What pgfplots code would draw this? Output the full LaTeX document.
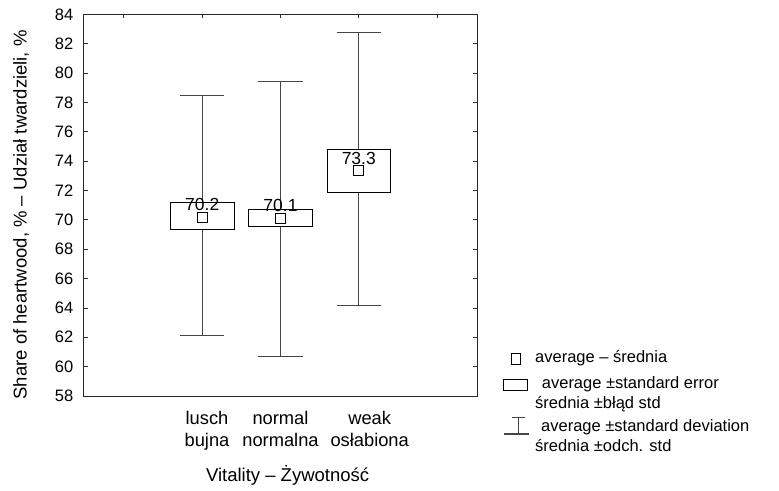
\documentclass[border=0pt]{standalone}
\usepackage{fontspec}
\setmainfont{Liberation Sans}
\usepackage{pgfplots}
\pgfplotsset{compat=1.18}
\usepgfplotslibrary{statistics}
\definecolor{whisk}{HTML}{454545}
\definecolor{axcol}{HTML}{2A2A2A}
\begin{document}
\fontsize{16.5}{20}\selectfont
\begin{tikzpicture}
\useasboundingbox (0,0) rectangle (779pt,490pt);
\begin{axis}[
  at={(84pt,94pt)}, anchor=south west,
  scale only axis, width=393pt, height=381.5pt,
  xmin=-0.51, xmax=4.51, ymin=58, ymax=84,
  ytick={58,60,...,84},
  xtick={0,1,2,3,4},
  xticklabels={{},{\hspace*{9.6pt}lusch\\\hspace*{9.6pt}bujna},{normal\\normalna},{\hspace*{21.8pt}weak\\\hspace*{21.8pt}osłabiona},{}},
  xtick pos=right, xticklabel pos=left,
  ytick pos=both, yticklabel pos=left,
  tick align=inside,
  major tick length=4pt,
  axis line style={axcol, line width=1pt},
  tick style={axcol, line width=0.9pt},
  /pgf/number format/assume math mode=true,
  yticklabel style={xshift=-5pt},
  xticklabel style={align=center, font=\fontsize{18.3}{22}\selectfont, yshift=-9.5pt},
  xlabel={Vitality – Żywotność},
  ylabel={Share of heartwood, \% – Udział twardzieli, \%},
  xlabel style={at={(axis description cs:0.518,-0.209)}, anchor=center, font=\fontsize{18.5}{22}\selectfont},
  ylabel style={at={(axis description cs:-0.16,0.475)}, anchor=center, font=\fontsize{18.5}{22}\selectfont},
  boxplot/draw direction=y,
  boxplot/every median/.style={draw=none},
  boxplot/every whisker/.style={whisk, line width=1.1pt},
  boxplot/every box/.style={black, line width=0.95pt},
]
\addplot[black, line width=0.95pt, boxplot prepared={draw position=1, lower whisker=62.12, lower quartile=69.33, median=70.2, upper quartile=71.18, upper whisker=78.47, box extend=0.82, whisker extend=0.56}] coordinates {};
\addplot[black, line width=0.95pt, boxplot prepared={draw position=2, lower whisker=60.72, lower quartile=69.58, median=70.1, upper quartile=70.69, upper whisker=79.43, box extend=0.82, whisker extend=0.58}] coordinates {};
\addplot[black, line width=0.95pt, boxplot prepared={draw position=3, lower whisker=64.15, lower quartile=71.85, median=73.3, upper quartile=74.8, upper whisker=82.75, box extend=0.80, whisker extend=0.56}] coordinates {};
\addplot[only marks, mark=square, mark size=5pt,
  mark options={black, line width=0.9pt, fill=white},
  nodes near coords, point meta=explicit symbolic,
  nodes near coords align={center},
  every node near coord/.append style={anchor=center, yshift=12.5pt, inner sep=0pt, black, font=\fontsize{17.5}{20}\selectfont}]
  coordinates {(1,70.2) [70.2] (2,70.1) [70.1] (3,73.35) [73.3]};
\end{axis}
% legend
\draw[black, line width=0.9pt] (511pt,126pt) rectangle (520pt,137pt);
\node[anchor=mid west, inner sep=0pt] at (535pt,131.7pt) {average – średnia};
\draw[black, line width=0.9pt] (503.3pt,100pt) rectangle (527.3pt,111pt);
\node[anchor=mid west, inner sep=0pt] at (541.7pt,105.7pt) {average ±standard error};
\node[anchor=mid west, inner sep=0pt] at (535pt,86pt) {średnia ±błąd std};
\draw[whisk, line width=1.1pt] (511.7pt,72.7pt) -- (525pt,72.7pt) (518.3pt,72.7pt) -- (518.3pt,56pt) (504pt,56pt) -- (529.3pt,56pt);
\node[anchor=mid west, inner sep=0pt] at (541pt,63.3pt) {average ±standard deviation};
\node[anchor=mid west, inner sep=0pt] at (535pt,43.3pt) {średnia ±odch. std};
\end{tikzpicture}
\end{document}
